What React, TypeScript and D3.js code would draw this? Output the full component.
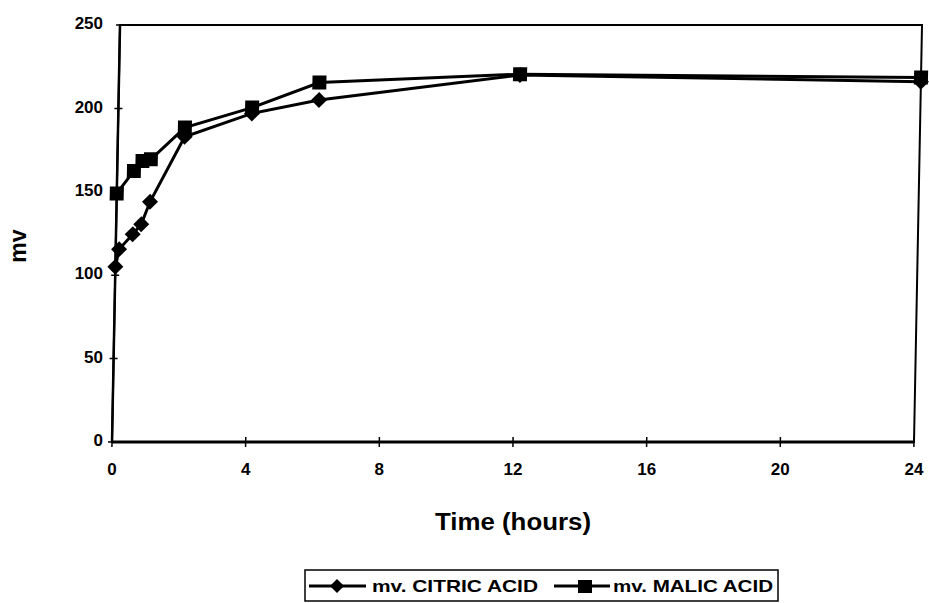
import React from "react";
import * as d3 from "d3";

const citricTimes = [0, 0.1, 0.5, 0.75, 1, 2, 4, 6, 12, 24];
const citricValues = [105, 115.5, 124.5, 130.5, 144, 183, 197, 205, 220, 216];
const malicTimes = [0, 0.5, 0.75, 1, 2, 4, 6, 12, 24];
const malicValues = [149, 162.5, 168.5, 169.5, 188.5, 200.5, 215.5, 220.5, 218.5];
const xTicks = [0, 4, 8, 12, 16, 20, 24];
const yTicks = [0, 50, 100, 150, 200, 250];
const seriesNames = ["mv. CITRIC ACID", "mv. MALIC ACID"];

const W = 929;
const H = 603;
const FONT = "'Liberation Sans', Arial, sans-serif";

export default function App() {
  const x = d3.scaleLinear().domain([0, 24]).range([112, 914]);
  const y = d3.scaleLinear().domain([0, 250]).range([442, 25]);
  const line = d3
    .line<[number, number]>()
    .x((d) => x(d[0]))
    .y((d) => y(d[1]));
  const citric: [number, number][] = citricTimes.map((t, i) => [t, citricValues[i]]);
  const malic: [number, number][] = malicTimes.map((t, i) => [t, malicValues[i]]);
  const y0 = y(0);
  const skew = `translate(0,${y0}) skewX(-1.1) translate(0,${-y0})`;
  const diamond = (cx: number, cy: number, r: number) =>
    `M${cx},${cy - r}L${cx + r},${cy}L${cx},${cy + r}L${cx - r},${cy}Z`;

  return (
    <svg
      width={W}
      height={H}
      style={{ position: "absolute", left: 0, top: 0, background: "#fff" }}
      fontFamily={FONT}
    >
      <rect x={0} y={0} width={W} height={H} fill="#fff" />
      <g transform={skew}>
        <rect
          x={x(0)}
          y={y(250)}
          width={x(24) - x(0)}
          height={y(0) - y(250)}
          fill="none"
          stroke="#000"
          strokeWidth={2}
        />
        <line x1={x(0)} x2={x(24)} y1={y(0)} y2={y(0)} stroke="#000" strokeWidth={3} />
        <line x1={x(0)} x2={x(0)} y1={y(0)} y2={y(250)} stroke="#000" strokeWidth={2.5} />
        {xTicks.map((t) => (
          <line key={"xt" + t} x1={x(t)} x2={x(t)} y1={y(0) - 5} y2={y(0) + 5} stroke="#000" strokeWidth={1.5} />
        ))}
        {yTicks.map((t) => (
          <line key={"yt" + t} x1={x(0) - 4} x2={x(0) + 4} y1={y(t)} y2={y(t)} stroke="#000" strokeWidth={1.5} />
        ))}
        <path d={line(malic) || ""} fill="none" stroke="#000" strokeWidth={3} />
        <path d={line(citric) || ""} fill="none" stroke="#000" strokeWidth={3} />
        {malic.map((d, i) => (
          <rect key={"m" + i} x={x(d[0]) - 7} y={y(d[1]) - 7} width={14} height={14} fill="#000" />
        ))}
        {citric.map((d, i) => (
          <path key={"c" + i} d={diamond(x(d[0]), y(d[1]), 8)} fill="#000" />
        ))}
      </g>
      {yTicks.map((t) => (
        <text
          key={"yl" + t}
          x={103}
          y={y(t) - 2}
          dy="0.36em"
          textAnchor="end"
          fontSize={17}
          fontWeight="bold"
        >
          {t}
        </text>
      ))}
      {xTicks.map((t) => (
        <text
          key={"xl" + t}
          x={x(t)}
          y={475}
          textAnchor="middle"
          fontSize={17}
          fontWeight="bold"
        >
          {t}
        </text>
      ))}
      <text
        x={513}
        y={530}
        textAnchor="middle"
        fontSize={23}
        fontWeight="bold"
        textLength={156}
        lengthAdjust="spacingAndGlyphs"
      >
        Time (hours)
      </text>
      <text
        transform="translate(26,246) rotate(-90)"
        textAnchor="middle"
        fontSize={23}
        fontWeight="bold"
      >
        mv
      </text>
      {/* legend */}
      <rect x={305} y={570} width={473} height={31} fill="none" stroke="#000" strokeWidth={1.5} />
      <line x1={309} x2={366} y1={586} y2={586} stroke="#000" strokeWidth={3} />
      <path d={diamond(337, 586, 7)} fill="#000" />
      <text
        x={372}
        y={592}
        fontSize={17}
        fontWeight="bold"
        textLength={166}
        lengthAdjust="spacingAndGlyphs"
      >
        {seriesNames[0]}
      </text>
      <line x1={554} x2={610} y1={586} y2={586} stroke="#000" strokeWidth={3} />
      <rect x={578} y={580} width={14} height={13} fill="#000" />
      <text
        x={613}
        y={592}
        fontSize={17}
        fontWeight="bold"
        textLength={160}
        lengthAdjust="spacingAndGlyphs"
      >
        {seriesNames[1]}
      </text>
    </svg>
  );
}
